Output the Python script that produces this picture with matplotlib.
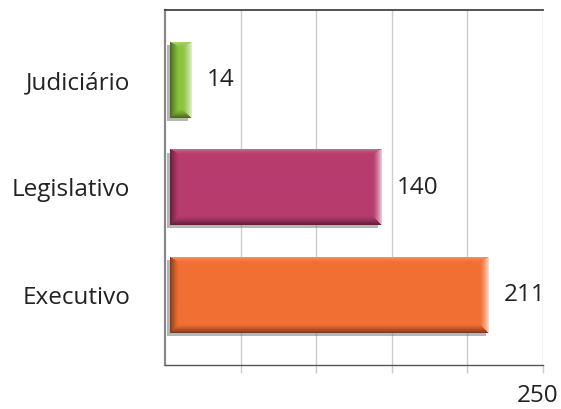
import matplotlib
matplotlib.use("Agg")
import matplotlib.pyplot as plt
import numpy as np
from matplotlib.patches import Rectangle
from matplotlib.transforms import ScaledTranslation

plt.rcParams["font.family"] = ["Open Sans", "DejaVu Sans"]

# data, bottom to top
categories = ["Executivo", "Legislativo", "Judiciário"]
values = [211, 140, 14]
colors = ["#f26f33", "#b83b6e", "#8cc43c"]
xticks = [50, 100, 150, 200, 250]
xtick_labels = ["", "", "", "", "250"]

BAR_OFFSET = 3.3      # bars sit a little right of the axis line
BAR_HEIGHT = 0.70
XMAX = 250
FS = 17.5

W, H, DPI = 5.61, 4.09, 100
AX_RECT = [165 / 561, 44 / 409, 377.7 / 561, 355 / 409]

fig = plt.figure(figsize=(W, H), dpi=DPI)
ax = fig.add_axes(AX_RECT)

px_per_x = W * DPI * AX_RECT[2] / XMAX
px_per_y = 107.5  # pixels per category slot


def bevel_image(color, nx, ny):
    """RGB array of a bar with darker left/bottom and lighter right/top edges."""
    base = np.array(matplotlib.colors.to_rgb(color))
    xx, yy = np.meshgrid(np.arange(nx) + 0.5, np.arange(ny) + 0.5)
    dl, dr = xx, nx - xx
    dt, db = yy, ny - yy          # image row 0 is the top
    wl, wr, wt, wb = 9.0, 9.0, 5.0, 9.0
    sl, sr, st, sb = dl / wl, dr / wr, dt / wt, db / wb
    near = np.argmin(np.stack([sl, sr, st, sb]), axis=0)
    s = np.min(np.stack([sl, sr, st, sb]), axis=0)
    t = np.clip(1 - s, 0, 1) ** 1.3
    img = np.ones((ny, nx, 3)) * base
    dark = base * 0.45
    light = np.array([1.0, 1.0, 1.0])
    for k, (target, amt) in enumerate([(dark, 0.85), (light, 0.75),
                                       (light, 0.25), (dark, 0.9)]):
        m = (near == k)
        f = (t * amt)[..., None]
        img = np.where(m[..., None], img * (1 - f) + target * f, img)
    return img


shadow_shift = ScaledTranslation(-3 / DPI, -3 / DPI, fig.dpi_scale_trans)
for i, (v, c) in enumerate(zip(values, colors)):
    y0 = i - BAR_HEIGHT / 2
    ax.add_patch(Rectangle((BAR_OFFSET, y0), v, BAR_HEIGHT,
                           transform=ax.transData + shadow_shift,
                           facecolor="#7a7a7a", alpha=0.55, lw=0, zorder=2))
    nx = max(int(round(v * px_per_x)), 2)
    ny = int(round(BAR_HEIGHT * px_per_y))
    ax.imshow(bevel_image(c, nx, ny),
              extent=(BAR_OFFSET, BAR_OFFSET + v, y0, y0 + BAR_HEIGHT),
              aspect="auto", interpolation="bilinear", zorder=3)
    ax.annotate(str(v), (BAR_OFFSET + v, i), xytext=(11, 0),
                textcoords="offset points", va="center", ha="left",
                fontsize=FS, color="#222222")

ax.set_xlim(0, XMAX)
ax.set_ylim(-0.65, len(categories) - 0.35)

ax.set_yticks(range(len(categories)))
ax.set_yticklabels(categories, fontsize=FS, color="#222222")
ax.tick_params(axis="y", length=0, pad=25)

ax.set_xticks(xticks)
ax.set_xticklabels(xtick_labels, fontsize=FS, color="#222222")
ax.tick_params(axis="x", length=6, width=1, color="#c8c8c8", pad=8)
# nudge the end label inward so it stays inside the figure
shift = ScaledTranslation(-5 / DPI, 0, fig.dpi_scale_trans)
for lab in ax.get_xticklabels():
    lab.set_transform(lab.get_transform() + shift)

ax.grid(axis="x", color="#cccccc", linewidth=1, zorder=0)
ax.set_axisbelow(True)

ax.spines["right"].set_visible(False)
ax.spines["top"].set_color("#444444")
ax.spines["top"].set_linewidth(1.3)
ax.spines["left"].set_color("#888888")
ax.spines["left"].set_linewidth(1.6)
ax.spines["bottom"].set_color("#555555")
ax.spines["bottom"].set_linewidth(1.0)

fig.savefig("out.png", dpi=DPI)
